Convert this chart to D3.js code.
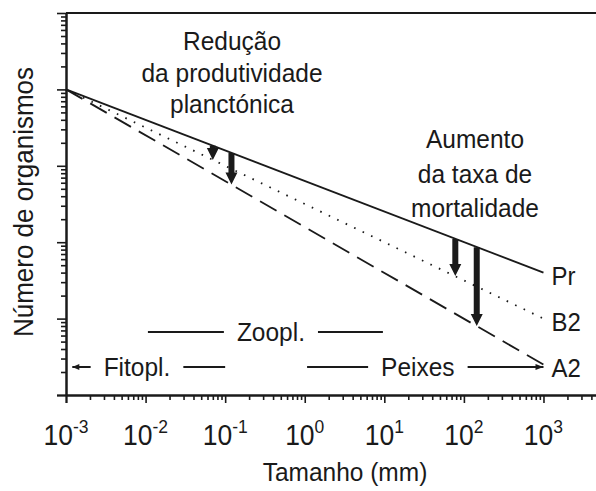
<!DOCTYPE html>
<html><head><meta charset="utf-8">
<script src="https://cdn.jsdelivr.net/npm/d3@7"></script>
<style>
html,body{margin:0;padding:0;background:#fff;}
text{font-family:"Liberation Sans",Arial,sans-serif;fill:#1a1a1a;}
</style></head>
<body><svg id="c" width="596" height="491"></svg>
<script>
// ---- data ----
const sizes = [1e-3, 1e3];              // Tamanho (mm)
const prValues = [1e4, 40];             // Pr (solid)
const b2Values = [1e4, 10];             // B2 (dotted)
const a2Values = [1e4, 2.5];            // A2 (dashed)
const seriesNames = ["Pr", "B2", "A2"];

const arrowSizes = [0.07, 0.12, 78, 145];
const arrowFrom  = [1830, 1470, 110, 86];
const arrowTo    = [1195, 570, 36, 8];

const groupNames = ["Zoopl.", "Fitopl.", "Peixes"];
const groupStart = [0.0107, 0.0012, 1.07];
const groupEnd   = [9.6, 0.1, 1000];
const groupLabelAt = [0.376, 0.0078, 26.4];
const groupArrowLeft  = [false, true, false];
const groupArrowRight = [false, false, true];

const xTickExps = [-3, -2, -1, 0, 1, 2, 3];
const yTickExps = [0, 1, 2, 3, 4, 5];

const noteLeft  = ["Redução", "da produtividade", "planctónica"];
const noteRight = ["Aumento", "da taxa de", "mortalidade"];

// ---- layout ----
const svg = d3.select("#c");
const x = d3.scaleLog().domain([1e-3, Math.pow(10, 3.66)]).range([66, 596]);
const y = d3.scaleLog().domain([1, 1e5]).range([395, 13]);
const ink = "#1a1a1a";
const VS = 1.08; // slight vertical stretch of lettering seen in the reference

function addText(px, py, str, size, anchor) {
  return svg.append("text")
    .attr("transform", `translate(${px},${py}) scale(1,${VS})`)
    .attr("text-anchor", anchor || "middle").attr("font-size", size).text(str);
}

function minors(lo, hi, max) {
  const out = [];
  for (let e = lo; e <= hi; e++) for (let m = 2; m <= 9; m++) {
    const v = m * Math.pow(10, e); if (v <= max) out.push(v);
  }
  return out;
}

// x axis
const gx = svg.append("g").attr("transform", "translate(0,395)");
gx.call(d3.axisBottom(x).tickValues(minors(-3, 3, x.domain()[1])).tickSize(5).tickSizeOuter(0).tickFormat(""));
gx.append("g").call(d3.axisBottom(x).tickValues(xTickExps.map(e => Math.pow(10, e))).tickSize(8).tickSizeOuter(0).tickFormat(""));
gx.selectAll(".domain").attr("stroke", ink).attr("stroke-width", 2);
gx.selectAll("line").attr("stroke", ink).attr("stroke-width", 1.6);
gx.select(".domain").attr("d", "M57,0.5H596");

// y axis
const gy = svg.append("g").attr("transform", "translate(66,0)");
gy.call(d3.axisLeft(y).tickValues(minors(0, 4, 1e5)).tickSize(5).tickSizeOuter(0).tickFormat(""));
gy.append("g").call(d3.axisLeft(y).tickValues(yTickExps.map(e => Math.pow(10, e))).tickSize(9).tickSizeOuter(0).tickFormat(""));
gy.selectAll(".domain").attr("stroke", ink).attr("stroke-width", 2);
gy.selectAll("line").attr("stroke", ink).attr("stroke-width", 1.6);
gy.select(".domain").attr("d", "M0.5,13V403");

// top frame
svg.append("line").attr("x1", 66).attr("x2", 596).attr("y1", y(1e5)).attr("y2", y(1e5))
  .attr("stroke", ink).attr("stroke-width", 2);

// tick labels
xTickExps.forEach(e => {
  const t = svg.append("text")
    .attr("transform", `translate(${x(Math.pow(10, e))},445) scale(1,${VS})`)
    .attr("text-anchor", "middle").attr("font-size", 26.5);
  t.append("tspan").text("10");
  t.append("tspan").attr("dy", -11).attr("font-size", 17.5).text(String(e));
});

// axis titles
addText(345, 481, "Tamanho (mm)", 24.5);
svg.append("text").attr("transform", `translate(33,202) rotate(-90) scale(1,${VS})`).attr("text-anchor", "middle")
  .attr("font-size", 26).text("Número de organismos");

// series lines
const line = d3.line().x(d => x(d[0])).y(d => y(d[1]));
const series = [prValues, b2Values, a2Values];
const dash = [null, "1.6,7.8", "19,9"];
series.forEach((vals, i) => {
  svg.append("path").datum(sizes.map((s, j) => [s, vals[j]])).attr("d", line)
    .attr("fill", "none").attr("stroke", ink).attr("stroke-width", 1.8)
    .attr("stroke-dasharray", dash[i]);
  addText(x(sizes[1]) + 8, y(vals[1]) + 12, seriesNames[i], 24, "start");
});

// thick arrows
arrowSizes.forEach((s, i) => {
  const cx = x(s), y0 = y(arrowFrom[i]), y1 = y(arrowTo[i]);
  const h = Math.min(12, y1 - y0), sw = 3, hw = 6;
  const pts = [[cx - sw, y0], [cx + sw, y0], [cx + sw, y1 - h], [cx + hw, y1 - h], [cx, y1],
               [cx - hw, y1 - h], [cx - sw, y1 - h]];
  svg.append("polygon").attr("points", pts.map(p => p.join(",")).join(" ")).attr("fill", ink);
});

// annotations
noteLeft.forEach((t, i) => addText(232, 50 + i * 31.5, t, 24.5));
noteRight.forEach((t, i) => addText(475, 148 + i * 34.5, t, 24.5));

// group ranges
const groupY = [332, 367, 367];
groupNames.forEach((g, i) => {
  const cy = groupY[i];
  const tx = x(groupLabelAt[i]);
  const t = addText(tx, cy + 8.5, g, 24.5);
  const w = t.node().getComputedTextLength();
  const gap = 13;
  const xa = x(groupStart[i]), xb = x(groupEnd[i]);
  svg.append("line").attr("x1", xa).attr("x2", tx - w / 2 - gap).attr("y1", cy).attr("y2", cy)
    .attr("stroke", ink).attr("stroke-width", 2);
  svg.append("line").attr("x1", tx + w / 2 + gap).attr("x2", xb).attr("y1", cy).attr("y2", cy)
    .attr("stroke", ink).attr("stroke-width", 2);
  if (groupArrowLeft[i]) svg.append("polygon")
    .attr("points", `${xa},${cy} ${xa + 7},${cy - 3} ${xa + 7},${cy + 3}`).attr("fill", ink);
  if (groupArrowRight[i]) svg.append("polygon")
    .attr("points", `${xb},${cy} ${xb - 8},${cy - 3} ${xb - 8},${cy + 3}`).attr("fill", ink);
});
</script></body></html>
